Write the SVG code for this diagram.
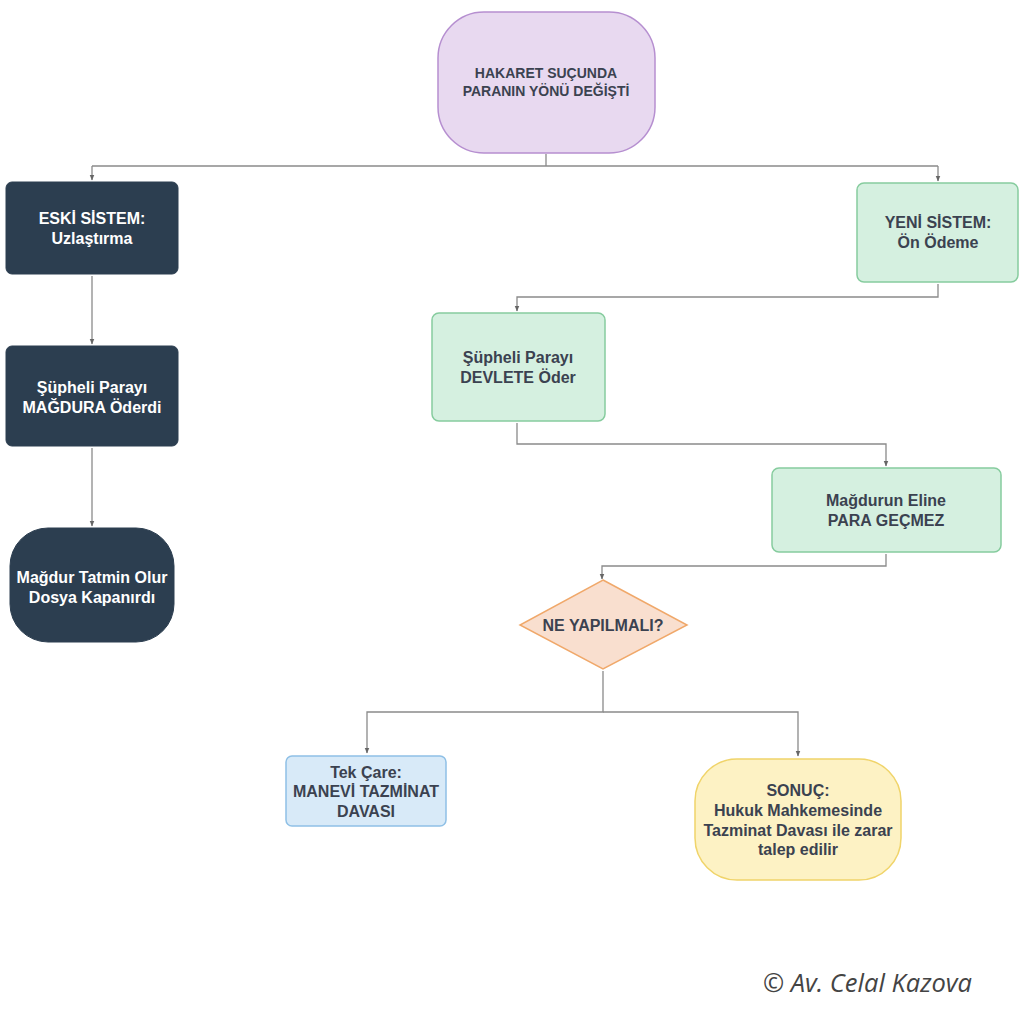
<svg xmlns="http://www.w3.org/2000/svg" width="1024" height="1024" viewBox="0 0 1024 1024">
<defs>
<marker id="ah" viewBox="0 0 10 10" refX="9" refY="5" markerWidth="6" markerHeight="6" orient="auto" markerUnits="userSpaceOnUse">
<path d="M0,1 L10,5 L0,9 z" fill="#666"/>
</marker>
<style>
.t{font-family:"Liberation Sans",Arial,sans-serif;font-weight:bold;font-size:16px;text-anchor:middle;fill:#3b4250}
.s{font-size:14px}
.w{fill:#ffffff}
.dark{fill:#2c3e50;stroke:#2c3e50;stroke-width:1}
.green{fill:#d5f0e0;stroke:#86cc9e;stroke-width:1.5}
.c{fill:none;stroke:#8a8a8a;stroke-width:1.3}
</style>
</defs>
<rect width="1024" height="1024" fill="#ffffff"/>
<g id="connectors">
<path class="c" d="M546,154 V166 M92,166 H938"/>
<path class="c" d="M92,166 V180" marker-end="url(#ah)"/>
<path class="c" d="M938,166 V181" marker-end="url(#ah)"/>
<path class="c" d="M92,276 V344" marker-end="url(#ah)"/>
<path class="c" d="M92,448 V526" marker-end="url(#ah)"/>
<path class="c" d="M938,284 V297 H517 V311" marker-end="url(#ah)"/>
<path class="c" d="M517,423 V444 H886 V466" marker-end="url(#ah)"/>
<path class="c" d="M886,554 V566 H602 V579" marker-end="url(#ah)"/>
<path class="c" d="M603,671 V712 H367 V753" marker-end="url(#ah)"/>
<path class="c" d="M603,712 H798 V756" marker-end="url(#ah)"/>
</g>
<g id="n_top">
<rect x="438" y="12" width="217" height="141" rx="46" ry="46" fill="#e8d9f0" stroke="#b68fd0" stroke-width="1.5"/>
<text class="t s" x="546" y="78">HAKARET SUÇUNDA</text>
<text class="t s" x="546" y="96">PARANIN YÖNÜ DEĞİŞTİ</text>
</g>
<g id="n_eski">
<rect class="dark" x="6" y="182" width="172" height="92" rx="6"/>
<text class="t w" x="92" y="224">ESKİ SİSTEM:</text>
<text class="t w" x="92" y="244">Uzlaştırma</text>
</g>
<g id="n_magdura">
<rect class="dark" x="6" y="346" width="172" height="100" rx="6"/>
<text class="t w" x="92" y="393">Şüpheli Parayı</text>
<text class="t w" x="92" y="413">MAĞDURA Öderdi</text>
</g>
<g id="n_tatmin">
<rect class="dark" x="10" y="528" width="164" height="114" rx="38"/>
<text class="t w" x="92" y="583">Mağdur Tatmin Olur</text>
<text class="t w" x="92" y="603">Dosya Kapanırdı</text>
</g>
<g id="n_yeni">
<rect class="green" x="857" y="183" width="161" height="99" rx="7"/>
<text class="t" x="938" y="228">YENİ SİSTEM:</text>
<text class="t" x="938" y="248">Ön Ödeme</text>
</g>
<g id="n_devlete">
<rect class="green" x="432" y="313" width="173" height="108" rx="7"/>
<text class="t" x="518" y="363">Şüpheli Parayı</text>
<text class="t" x="518" y="383">DEVLETE Öder</text>
</g>
<g id="n_eline">
<rect class="green" x="772" y="468" width="229" height="84" rx="7"/>
<text class="t" x="886" y="506">Mağdurun Eline</text>
<text class="t" x="886" y="526">PARA GEÇMEZ</text>
</g>
<g id="n_ne">
<polygon points="603,580 687,625 603,669 520,625" fill="#f9dfcf" stroke="#f0a86a" stroke-width="1.5"/>
<text class="t" x="603" y="631">NE YAPILMALI?</text>
</g>
<g id="n_tek">
<rect x="286" y="756" width="160" height="70" rx="6" fill="#d8eaf8" stroke="#8fc0e6" stroke-width="1.5"/>
<text class="t" x="366" y="778">Tek Çare:</text>
<text class="t" x="366" y="797">MANEVİ TAZMİNAT</text>
<text class="t" x="366" y="817">DAVASI</text>
</g>
<g id="n_sonuc">
<rect x="695" y="759" width="206" height="121" rx="42" fill="#fdf2c4" stroke="#f0d46a" stroke-width="1.5"/>
<text class="t" x="798" y="796">SONUÇ:</text>
<text class="t" x="798" y="816">Hukuk Mahkemesinde</text>
<text class="t" x="798" y="836">Tazminat Davası ile zarar</text>
<text class="t" x="798" y="855">talep edilir</text>
</g>
<text x="972" y="992" text-anchor="end" font-family="'Open Sans','Noto Sans',sans-serif" font-style="italic" font-size="25.5" fill="#444444">© Av. Celal Kazova</text>
</svg>
